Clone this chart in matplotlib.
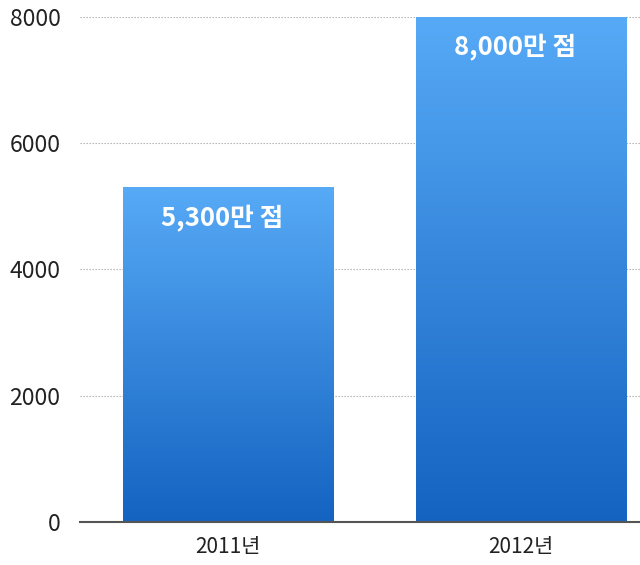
import numpy as np
import matplotlib
matplotlib.use('Agg')
import matplotlib.pyplot as plt
from matplotlib.colors import LinearSegmentedColormap

plt.rcParams['font.family'] = ['Noto Sans CJK KR', 'DejaVu Sans']

# Data
years = ['2011년', '2012년']
values = [5300, 8000]
labels = ['5,300만 점', '8,000만 점']
yticks = [0, 2000, 4000, 6000, 8000]

# Gradient: light blue at top, dark blue at bottom
cmap = LinearSegmentedColormap.from_list('bar', ['#1463c1', '#57aaf6'])
grad = np.linspace(1, 0, 256).reshape(-1, 1)

fig = plt.figure(figsize=(6.4, 5.65), dpi=100)
ax = fig.add_axes([0.125, 0.0761, 0.875, 0.894])

bar_w = 0.717
x = np.arange(len(years))
for xi, v, lab in zip(x, values, labels):
    ax.imshow(grad, cmap=cmap, aspect='auto', zorder=2,
              extent=(xi - bar_w / 2, xi + bar_w / 2, 0, v))
    ax.text(xi - 0.02, v - 31 / 505 * 8000, lab, color='white', fontsize=18.5,
            fontweight='bold', ha='center', va='center', zorder=3)

ax.set_xlim(-0.505, 1.406)
ax.set_ylim(0, 8000)
ax.set_yticks(yticks)
ax.set_yticklabels([str(t) for t in yticks], fontsize=16.5, color='#222222')
ax.set_xticks(x)
ax.set_xticklabels(years, fontsize=15, color='#222222')
ax.tick_params(axis='y', length=0, pad=14)
ax.tick_params(axis='x', length=0, pad=10)

for t in yticks[1:]:
    ax.axhline(t, color='#aaaaaa', linestyle=(0, (1.2, 1.5)), linewidth=0.8, zorder=1)

for s in ['top', 'right', 'left']:
    ax.spines[s].set_visible(False)
ax.spines['bottom'].set_color('#555555')
ax.spines['bottom'].set_linewidth(1.5)
ax.spines['bottom'].set_zorder(4)

fig.savefig('out.png', dpi=100)
